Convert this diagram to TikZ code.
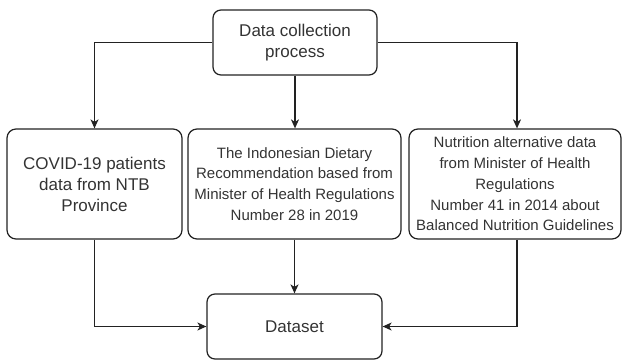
\documentclass[tikz,border=0pt]{standalone}
\usepackage{fontspec}
\setmainfont{Liberation Sans}
\usetikzlibrary{arrows.meta}
\definecolor{txt}{HTML}{333333}
\definecolor{ln}{HTML}{222222}
\tikzset{
  box/.style={draw=ln, line width=1.25pt, rounded corners=9pt, rectangle, inner sep=0pt, align=center, text=txt},
  bigtext/.style={font=\fontsize{17}{21}\selectfont},
  smalltext/.style={font=\fontsize{15}{20.8}\selectfont},
  conn/.style={draw=ln, line width=1.25pt, -{Stealth[length=9pt,width=8pt,inset=2.5pt]}},
}
\begin{document}
\begin{tikzpicture}[x=1pt,y=-1pt]
\useasboundingbox (0,0) rectangle (622,360);
\node[box, bigtext, rounded corners=8pt, minimum width=164pt, minimum height=65pt] (top) at (295,42.5) {Data collection\\process};
\node[box, bigtext, minimum width=175pt, minimum height=110pt] (left) at (94.5,184) {COVID-19 patients\\data from NTB\\Province};
\node[box, smalltext, minimum width=213pt, minimum height=110pt] (mid) at (294.5,184) {The Indonesian Dietary\\Recommendation based from\\Minister of Health Regulations\\Number 28 in 2019};
\node[box, smalltext, minimum width=212pt, minimum height=110pt] (right) at (515,184) {Nutrition alternative data\\from Minister of Health\\Regulations\\Number 41 in 2014 about\\Balanced Nutrition Guidelines};
\node[box, bigtext, rounded corners=8pt, minimum width=175pt, minimum height=65pt] (data) at (294.5,326.5) {Dataset};
\coordinate (rtop) at ([xshift=2pt]right.north);
\coordinate (rbot) at ([xshift=2pt]right.south);
\draw[conn] (top.west) -| (left.north);
\draw[conn] (top.south) -- (top.south |- mid.north);
\draw[conn] (top.east) -| (rtop);
\draw[conn] (left.south) |- (data.west);
\draw[conn] (mid.south -| data.north) -- (data.north);
\draw[conn] (rbot) |- (data.east);
\end{tikzpicture}
\end{document}
